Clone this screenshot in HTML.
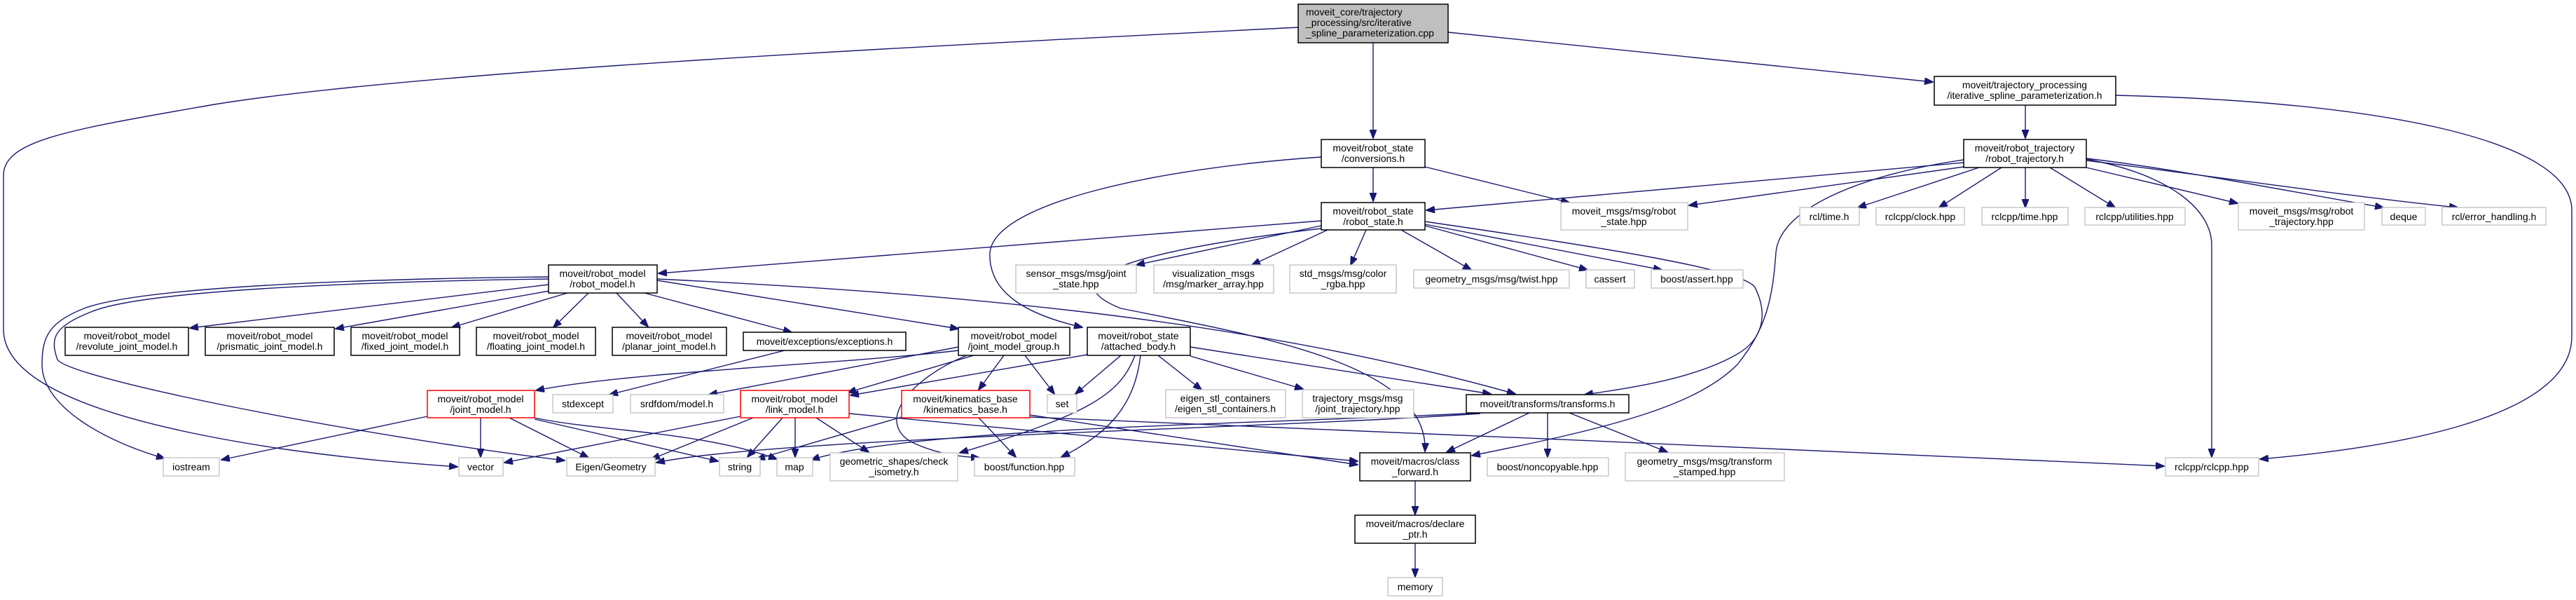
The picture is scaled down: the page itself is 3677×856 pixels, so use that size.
<!DOCTYPE html>
<html><head><meta charset="utf-8"><style>
body{margin:0;background:#fff}
svg{display:block}
text{font-family:"Liberation Sans",sans-serif;font-size:14px;fill:#000}
.e{fill:none;stroke:#191970;stroke-width:1.4}
.b{fill:#fff;stroke:#000;stroke-width:1.5}
.g{fill:#fff;stroke:#bfbfbf;stroke-width:1.3}
.r{fill:#fff;stroke:#ff0000;stroke-width:1.5}
</style></head><body>
<svg width="3677" height="856" viewBox="0 0 3677 856" xmlns="http://www.w3.org/2000/svg">
<defs><marker id="a" markerWidth="13" markerHeight="10" refX="12" refY="5" orient="auto" markerUnits="userSpaceOnUse"><path d="M0,0 L13,5 L0,10 z" fill="#191970" stroke="#191970"/></marker></defs>
<g class="e" marker-end="url(#a)">
<path d="M1960,61 L1960,197"/>
<path d="M2067,46 L2759,117"/>
<path d="M1853,39 C1400,62 600,100 300,150 C100,185 5,200 5,250 L5,470 C5,560 200,610 400,640 C520,657 600,662 653,666"/>
<path d="M1960,239 L1960,287"/>
<path d="M2034,238 L2240,289"/>
<path d="M1886,224 C1650,240 1420,290 1413,360 C1410,420 1470,450 1545,467"/>
<path d="M1886,315 L940,390"/>
<path d="M1886,322 L1622,378"/>
<path d="M1895,328 L1787,378"/>
<path d="M1950,328 L1928,378"/>
<path d="M2000,328 L2100,385"/>
<path d="M2034,322 L2266,385"/>
<path d="M2034,320 L2372,385"/>
<path d="M2034,316 C2300,355 2490,385 2505,410 C2525,450 2515,485 2480,505 C2420,540 2330,553 2262,563"/>
<path d="M1886,326 C1600,360 1500,400 1600,440 C1800,480 2040,520 2034,644"/>
<path d="M2803,232 L2036,300"/>
<path d="M2803,238 L2411,293"/>
<path d="M2825,239 L2652,296"/>
<path d="M2857,239 L2768,296"/>
<path d="M2891,239 L2891,296"/>
<path d="M2926,239 L3019,296"/>
<path d="M2978,239 L3194,290"/>
<path d="M2978,226 C3100,240 3250,270 3402,296"/>
<path d="M2978,229 C3150,250 3350,280 3508,296"/>
<path d="M2978,227 C3100,250 3157,300 3157,350 L3157,652"/>
<path d="M2803,228 C2650,250 2540,300 2535,360 C2530,430 2520,470 2480,520 C2420,580 2300,610 2101,650"/>
<path d="M2891,150 L2891,197"/>
<path d="M3020,136 C3400,145 3671,200 3671,300 L3671,480 C3671,600 3400,640 3226,655"/>
<path d="M783,395 C500,398 200,410 120,440 C70,460 60,480 60,520 C60,580 150,630 235,654"/>
<path d="M783,398 C500,402 200,415 130,445 C80,465 70,480 82,513 C100,540 500,620 806,657"/>
<path d="M783,406 L271,468"/>
<path d="M790,414 L479,469"/>
<path d="M810,418 L645,467"/>
<path d="M840,418 L790,467"/>
<path d="M880,418 L925,466"/>
<path d="M920,418 L1130,474"/>
<path d="M938,400 L1368,469"/>
<path d="M938,398 C1400,420 1800,460 2163,562"/>
<path d="M610,594 L316,656"/>
<path d="M686,596 L686,652"/>
<path d="M727,596 L840,653"/>
<path d="M763,596 C850,615 1000,615 1109,655"/>
<path d="M763,598 L1025,658"/>
<path d="M1120,500 L870,563"/>
<path d="M1368,500 C1200,520 900,530 765,557"/>
<path d="M1368,495 L1012,563"/>
<path d="M1390,507 L1210,560"/>
<path d="M1433,507 L1397,556"/>
<path d="M1463,507 L1505,562"/>
<path d="M1380,507 C1300,540 1250,600 1300,630 C1340,650 1380,652 1398,653"/>
<path d="M1552,506 L1214,564"/>
<path d="M1600,507 L1535,562"/>
<path d="M1653,507 L1715,556"/>
<path d="M1699,508 L1860,555"/>
<path d="M1699,495 L2128,562"/>
<path d="M1620,507 C1600,560 1560,590 1370,646"/>
<path d="M1628,507 C1620,580 1580,620 1515,652"/>
<path d="M1057,594 L720,660"/>
<path d="M1075,596 L930,655"/>
<path d="M1117,596 L1067,652"/>
<path d="M1135,596 L1135,652"/>
<path d="M1165,596 L1240,645"/>
<path d="M1212,590 L1938,658"/>
<path d="M1470,592 L1938,663"/>
<path d="M1287,595 L1080,655"/>
<path d="M1397,596 L1450,652"/>
<path d="M1470,595 C1900,610 2700,650 3089,665"/>
<path d="M2113,589 C1800,605 1300,610 1158,656"/>
<path d="M2113,590 C1800,612 1100,625 937,660"/>
<path d="M2183,589 L2065,645"/>
<path d="M2209,589 L2209,652"/>
<path d="M2240,589 L2380,645"/>
<path d="M2020,686 L2020,734"/>
<path d="M2020,775 L2020,823"/>
</g>
<g>
<rect x="1853" y="6" width="214" height="55" fill="#bfbfbf" stroke="#000" stroke-width="1.5"/>
<text x="1864" y="22">moveit_core/trajectory</text><text x="1864" y="37">_processing/src/iterative</text><text x="1864" y="52">_spline_parameterization.cpp</text>
</g>
<g text-anchor="middle">
<rect class="b" x="1886" y="199" width="148" height="40"/><text x="1960" y="216">moveit/robot_state</text><text x="1960" y="231">/conversions.h</text>
<rect class="b" x="1886" y="289" width="148" height="39"/><text x="1960" y="306">moveit/robot_state</text><text x="1960" y="321">/robot_state.h</text>
<rect class="g" x="2228" y="289" width="181" height="39"/><text x="2318" y="306">moveit_msgs/msg/robot</text><text x="2318" y="321">_state.hpp</text>
<rect class="b" x="2761" y="109" width="259" height="41"/><text x="2890" y="126">moveit/trajectory_processing</text><text x="2890" y="141">/iterative_spline_parameterization.h</text>
<rect class="b" x="2803" y="199" width="175" height="40"/><text x="2890" y="216">moveit/robot_trajectory</text><text x="2890" y="231">/robot_trajectory.h</text>
<rect class="g" x="2569" y="296" width="85" height="25"/><text x="2611" y="314">rcl/time.h</text>
<rect class="g" x="2678" y="296" width="126" height="25"/><text x="2741" y="314">rclcpp/clock.hpp</text>
<rect class="g" x="2829" y="296" width="123" height="25"/><text x="2890" y="314">rclcpp/time.hpp</text>
<rect class="g" x="2976" y="296" width="143" height="25"/><text x="3047" y="314">rclcpp/utilities.hpp</text>
<rect class="g" x="3195" y="289" width="180" height="39"/><text x="3285" y="306">moveit_msgs/msg/robot</text><text x="3285" y="321">_trajectory.hpp</text>
<rect class="g" x="3400" y="296" width="62" height="25"/><text x="3431" y="314">deque</text>
<rect class="g" x="3486" y="296" width="148" height="25"/><text x="3560" y="314">rcl/error_handling.h</text>
<rect class="g" x="3091" y="653" width="133" height="26"/><text x="3157" y="671">rclcpp/rclcpp.hpp</text>
<rect class="g" x="1841" y="378" width="152" height="40"/><text x="1917" y="395">std_msgs/msg/color</text><text x="1917" y="410">_rgba.hpp</text>
<rect class="g" x="2018" y="385" width="222" height="26"/><text x="2129" y="403">geometry_msgs/msg/twist.hpp</text>
<rect class="g" x="2264" y="385" width="69" height="26"/><text x="2298" y="403">cassert</text>
<rect class="g" x="2357" y="385" width="131" height="26"/><text x="2422" y="403">boost/assert.hpp</text>
<rect class="g" x="1450" y="378" width="172" height="40"/><text x="1536" y="395">sensor_msgs/msg/joint</text><text x="1536" y="410">_state.hpp</text>
<rect class="g" x="1647" y="378" width="171" height="40"/><text x="1732" y="395">visualization_msgs</text><text x="1732" y="410">/msg/marker_array.hpp</text>
<rect class="b" x="783" y="378" width="155" height="40"/><text x="860" y="395">moveit/robot_model</text><text x="860" y="410">/robot_model.h</text>
<rect class="b" x="93" y="467" width="176" height="40"/><text x="181" y="484">moveit/robot_model</text><text x="181" y="499">/revolute_joint_model.h</text>
<rect class="b" x="293" y="467" width="184" height="40"/><text x="385" y="484">moveit/robot_model</text><text x="385" y="499">/prismatic_joint_model.h</text>
<rect class="b" x="501" y="467" width="155" height="40"/><text x="578" y="484">moveit/robot_model</text><text x="578" y="499">/fixed_joint_model.h</text>
<rect class="b" x="680" y="467" width="170" height="40"/><text x="765" y="484">moveit/robot_model</text><text x="765" y="499">/floating_joint_model.h</text>
<rect class="b" x="874" y="467" width="163" height="40"/><text x="955" y="484">moveit/robot_model</text><text x="955" y="499">/planar_joint_model.h</text>
<rect class="b" x="1061" y="474" width="232" height="26"/><text x="1177" y="492">moveit/exceptions/exceptions.h</text>
<rect class="b" x="1368" y="467" width="159" height="40"/><text x="1447" y="484">moveit/robot_model</text><text x="1447" y="499">/joint_model_group.h</text>
<rect class="b" x="1552" y="467" width="147" height="40"/><text x="1625" y="484">moveit/robot_state</text><text x="1625" y="499">/attached_body.h</text>
<rect class="r" x="610" y="557" width="153" height="39"/><text x="686" y="574">moveit/robot_model</text><text x="686" y="589">/joint_model.h</text>
<rect class="g" x="789" y="563" width="86" height="26"/><text x="832" y="581">stdexcept</text>
<rect class="g" x="900" y="563" width="133" height="26"/><text x="966" y="581">srdfdom/model.h</text>
<rect class="r" x="1057" y="557" width="155" height="39"/><text x="1134" y="574">moveit/robot_model</text><text x="1134" y="589">/link_model.h</text>
<rect class="r" x="1287" y="557" width="183" height="39"/><text x="1378" y="574">moveit/kinematics_base</text><text x="1378" y="589">/kinematics_base.h</text>
<rect class="g" x="1495" y="563" width="42" height="26"/><text x="1516" y="581">set</text>
<rect class="g" x="1664" y="556" width="171" height="40"/><text x="1749" y="573">eigen_stl_containers</text><text x="1749" y="588">/eigen_stl_containers.h</text>
<rect class="g" x="1859" y="556" width="159" height="40"/><text x="1938" y="573">trajectory_msgs/msg</text><text x="1938" y="588">/joint_trajectory.hpp</text>
<rect class="b" x="2093" y="563" width="232" height="26"/><text x="2209" y="581">moveit/transforms/transforms.h</text>
<rect class="g" x="233" y="653" width="80" height="26"/><text x="273" y="671">iostream</text>
<rect class="g" x="655" y="653" width="63" height="26"/><text x="686" y="671">vector</text>
<rect class="g" x="809" y="653" width="126" height="26"/><text x="872" y="671">Eigen/Geometry</text>
<rect class="g" x="1027" y="653" width="58" height="26"/><text x="1056" y="671">string</text>
<rect class="g" x="1109" y="653" width="51" height="26"/><text x="1134" y="671">map</text>
<rect class="g" x="1185" y="646" width="182" height="40"/><text x="1276" y="663">geometric_shapes/check</text><text x="1276" y="678">_isometry.h</text>
<rect class="g" x="1391" y="653" width="143" height="26"/><text x="1462" y="671">boost/function.hpp</text>
<rect class="b" x="1941" y="646" width="158" height="40"/><text x="2020" y="663">moveit/macros/class</text><text x="2020" y="678">_forward.h</text>
<rect class="g" x="2123" y="653" width="173" height="26"/><text x="2209" y="671">boost/noncopyable.hpp</text>
<rect class="g" x="2320" y="646" width="227" height="40"/><text x="2433" y="663">geometry_msgs/msg/transform</text><text x="2433" y="678">_stamped.hpp</text>
<rect class="b" x="1934" y="735" width="172" height="40"/><text x="2020" y="752">moveit/macros/declare</text><text x="2020" y="767">_ptr.h</text>
<rect class="g" x="1981" y="824" width="78" height="26"/><text x="2020" y="842">memory</text>
</g>
</svg>
</body></html>
